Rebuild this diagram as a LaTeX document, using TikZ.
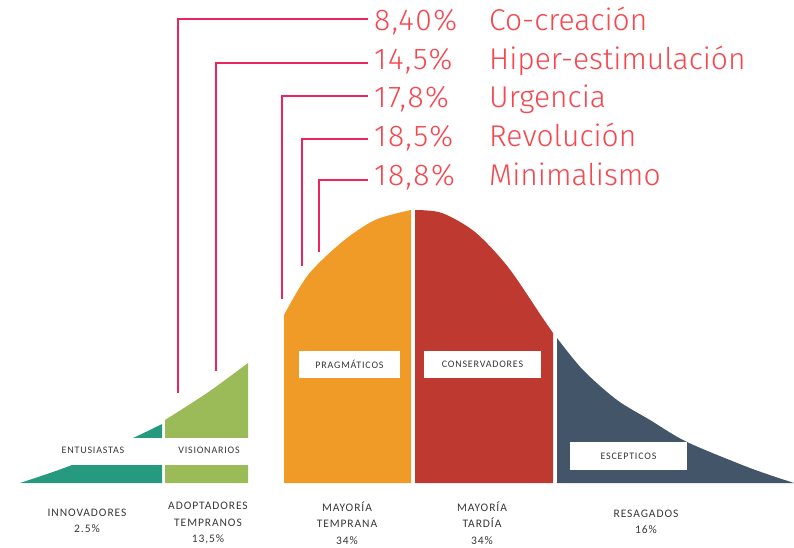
\documentclass[tikz,border=0pt]{standalone}
\usepackage{fontspec}
\newfontfamily\dinfont{Fira Sans Light}
\newfontfamily\dinwide[LetterSpace=5]{Fira Sans Light}
\newfontfamily\calfont[LetterSpace=8]{Carlito}
\definecolor{cteal}{RGB}{38,154,126}
\definecolor{cgreen}{RGB}{155,187,89}
\definecolor{corange}{RGB}{240,155,40}
\definecolor{cred}{RGB}{190,58,48}
\definecolor{cnavy}{RGB}{67,86,105}
\definecolor{cpink}{RGB}{236,38,92}
\definecolor{ctext}{RGB}{246,70,78}
\definecolor{cgray}{RGB}{55,55,55}
\begin{document}
\begin{tikzpicture}[x=1pt,y=-1pt,
  pct/.style={anchor=base west,inner sep=0pt,font=\dinwide\fontsize{30}{30}\selectfont,text=ctext},
  lbl/.style={anchor=base west,inner sep=0pt,font=\dinfont\fontsize{30}{30}\selectfont,text=ctext},
  conn/.style={draw=cpink,line width=2pt},
  small/.style={font=\calfont\fontsize{10}{12}\selectfont,text=cgray,inner sep=0pt},
  bottom/.style={font=\calfont\fontsize{11.5}{16.5}\selectfont,text=cgray,align=center,inner sep=0pt},
  wbox/.style={fill=white,draw=none}]
\useasboundingbox (0,0) rectangle (794,548);
% curve segments
\fill[cteal] (20,483) -- plot[smooth] coordinates {(20,483) (72,465) (133,438) (162,424)} -- (162,483) -- cycle;
\fill[cgreen] (165,483) -- plot[smooth] coordinates {(165,420) (207,393) (248,363)} -- (248,483) -- cycle;
\fill[corange] (284,483) -- plot[smooth] coordinates {(284,315) (308,275) (342,242) (375,220) (411,210)} -- (411,483) -- cycle;
\fill[cred] (415,483) -- plot[smooth] coordinates {(415,210) (442,213) (475,232) (508,267) (542,317) (553,333)} -- (553,483) -- cycle;
\fill[cnavy] (557,483) -- plot[smooth] coordinates {(557,338) (583,370) (617,400) (650,420) (687,442) (750,468) (794,483)} -- cycle;
% white band
\fill[white] (10,438) rectangle (252,465);
\node[small] (ent) at (93,450) {ENTUSIASTAS};
\node[small] (vis) at (209,450) {VISIONARIOS};
% boxes
\node[wbox,small,minimum width=101pt,minimum height=27pt] (prag) at (349.5,364.5) {PRAGMÁTICOS};
\node[wbox,small,minimum width=117pt,minimum height=27pt] (cons) at (482.5,364.5) {CONSERVADORES};
\node[wbox,small,minimum width=117pt,minimum height=28pt] (esc) at (628.5,456) {ESCEPTICOS};
% bottom labels
\node[bottom] (inn) at (87,521) {INNOVADORES\\2.5\%};
\node[bottom] (ado) at (208,523) {ADOPTADORES\\TEMPRANOS\\13,5\%};
\node[bottom] (mte) at (347,523) {MAYORÍA\\TEMPRANA\\34\%};
\node[bottom] (mta) at (482,523) {MAYORÍA\\TARDÍA\\34\%};
\node[bottom] (res) at (646,522) {RESAGADOS\\16\%};
% percentages and labels
\node[pct] (p1) at (374,31) {8,40\%};
\node[pct] (p2) at (374,70) {14,5\%};
\node[pct] (p3) at (374,108) {17,8\%};
\node[pct] (p4) at (374,147) {18,5\%};
\node[pct] (p5) at (374,185) {18,8\%};
\node[lbl] (l1) at (489,31) {Co-creación};
\node[lbl] (l2) at (489,70) {Hiper-estimulación};
\node[lbl] (l3) at (489,108) {Urgencia};
\node[lbl] (l4) at (489,147) {Revolución};
\node[lbl] (l5) at (489,185) {Minimalismo};
% connector start points (beside the percentages)
\coordinate (s1) at (368,19);
\coordinate (s2) at (368,63);
\coordinate (s3) at (368,96);
\coordinate (s4) at (368,139);
\coordinate (s5) at (368,180);
\coordinate (e1) at (178,393);
\coordinate (e2) at (216,371);
\coordinate (e3) at (282,299);
\coordinate (e4) at (302,266);
\coordinate (e5) at (319,252);
\draw[conn] (s1) -| (e1);
\draw[conn] (s2) -| (e2);
\draw[conn] (s3) -| (e3);
\draw[conn] (s4) -| (e4);
\draw[conn] (s5) -| (e5);
\end{tikzpicture}
\end{document}
